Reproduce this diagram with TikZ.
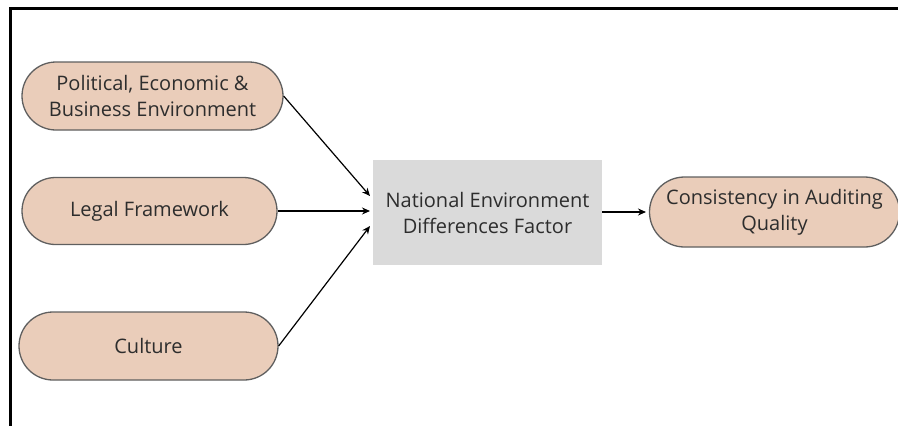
\documentclass[tikz,border=0pt]{standalone}
\usepackage{fontspec}
\setmainfont{Open Sans}
\usetikzlibrary{shapes.misc,arrows.meta}

\definecolor{peach}{RGB}{234,205,186}
\definecolor{pillline}{RGB}{95,95,95}
\definecolor{boxgrey}{RGB}{218,218,218}
\definecolor{inktext}{RGB}{45,45,45}

\tikzset{
  pill/.style={rounded rectangle, draw=pillline, line width=1.3pt, fill=peach,
    text=inktext, align=center, font=\fontsize{20}{26}\selectfont,
    inner sep=0pt},
  factorbox/.style={rectangle, fill=boxgrey, text=inktext, align=center,
    font=\fontsize{20}{26}\selectfont, minimum width=229pt, minimum height=105pt},
  link/.style={-{Stealth[length=8pt,width=7pt]}, line width=1.2pt, black}
}

\begin{document}
\begin{tikzpicture}[x=1pt,y=-1pt]
  \useasboundingbox (0,0) rectangle (898,426);
  % frame
  \draw [line width=2.6pt] (10.5,426) -- (10.5,8.5) -- (898,8.5);

  \node [pill, minimum width=261pt, minimum height=68pt] (pol) at (152.5,96)
    {Political, Economic \&\\Business Environment};
  \node [pill, minimum width=255pt, minimum height=67pt] (legal) at (149.5,211)
    {Legal Framework};
  \node [pill, minimum width=259pt, minimum height=68pt] (cult) at (148.5,346)
    {Culture};
  \node [factorbox] (nedf) at (487.5,212.5)
    {National Environment\\Differences Factor};
  \node [pill, minimum width=250pt, minimum height=70pt] (cons) at (774.5,212)
    {Consistency in Auditing\\Quality};

  \coordinate (intop) at (370,196);
  \coordinate (inmid) at (370,211);
  \coordinate (inbot) at (370,226);
  \coordinate (outend) at (646,212);

  \draw [link] (pol.east) -- (intop);
  \draw [link] (legal.east) -- (inmid);
  \draw [link] (cult.east) -- (inbot);
  \draw [link] (nedf.east |- outend) -- (outend);
\end{tikzpicture}
\end{document}
